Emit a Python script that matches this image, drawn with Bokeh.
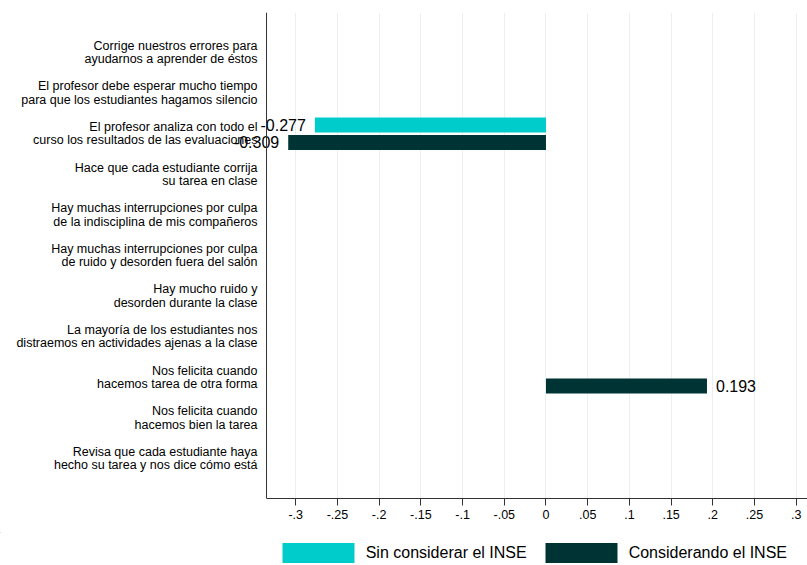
from bokeh.plotting import figure
from bokeh.layouts import column
from bokeh.models import (ColumnDataSource, Range1d, FixedTicker, Span,
                          Legend, LegendItem)
from bokeh.core.properties import value
from bokeh.embed import file_html
from bokeh.resources import INLINE

NaN = float("nan")

categories = [
    "Corrige nuestros errores para\nayudarnos a aprender de éstos",
    "El profesor debe esperar mucho tiempo\npara que los estudiantes hagamos silencio",
    "El profesor analiza con todo el\ncurso los resultados de las evaluaciones",
    "Hace que cada estudiante corrija\nsu tarea en clase",
    "Hay muchas interrupciones por culpa\nde la indisciplina de mis compañeros",
    "Hay muchas interrupciones por culpa\nde ruido y desorden fuera del salón",
    "Hay mucho ruido y\ndesorden durante la clase",
    "La mayoría de los estudiantes nos\ndistraemos en actividades ajenas a la clase",
    "Nos felicita cuando\nhacemos tarea de otra forma",
    "Nos felicita cuando\nhacemos bien la tarea",
    "Revisa que cada estudiante haya\nhecho su tarea y nos dice cómo está",
]
sin_inse = [NaN, NaN, -0.277, NaN, NaN, NaN, NaN, NaN, NaN, NaN, NaN]
con_inse = [NaN, NaN, -0.309, NaN, NaN, NaN, NaN, NaN, 0.193, NaN, NaN]
series_names = ["Sin considerar el INSE", "Considerando el INSE"]
x_ticks = [-0.3, -0.25, -0.2, -0.15, -0.1, -0.05, 0.0, 0.05, 0.1, 0.15, 0.2, 0.25, 0.3]
x_tick_labels = ["-.3", "-.25", "-.2", "-.15", "-.1", "-.05", "0", ".05", ".1", ".15", ".2", ".25", ".3"]

CYAN = "#00cccc"
DARK = "#003434"
AXIS = "#333333"
FONT = "Liberation Sans"
DODGE = 0.214
BAR_H = 0.37
PAD = 0.486
X_AXIS_START = -0.335      # where the plot region (left axis) begins
X_END = 0.3135
X_VIEW_START = -0.6539     # room on the left for the category labels

n = len(categories)
ypos = [float(n - i) for i in range(n)]   # first category at the top


def lab(v):
    return "" if v != v else "%.3f" % v


src = ColumnDataSource(dict(
    y=ypos,
    cat=categories,
    y_sin=[y + DODGE for y in ypos],
    y_con=[y - DODGE for y in ypos],
    sin=sin_inse, con=con_inse,
    sin_lab=[lab(v) for v in sin_inse],
    con_lab=[lab(v) for v in con_inse],
    sin_al=["right" if (v == v and v < 0) else "left" for v in sin_inse],
    con_al=["right" if (v == v and v < 0) else "left" for v in con_inse],
    sin_dx=[-9 if (v == v and v < 0) else 9 for v in sin_inse],
    con_dx=[-9 if (v == v and v < 0) else 9 for v in con_inse],
    x0=[X_AXIS_START] * n,
))

p = figure(width=807, height=532,
           y_range=Range1d(0.5 - PAD, n + 0.5 + PAD), x_range=Range1d(X_VIEW_START, X_END),
           y_axis_location=None,
           output_backend="svg", toolbar_location=None,
           min_border_left=0, min_border_right=0, min_border_top=12, min_border_bottom=34)
p.outline_line_color = None
p.background_fill_color = "white"

p.xgrid.ticker = FixedTicker(ticks=x_ticks)
p.xgrid.grid_line_color = "#e8f0f2"
p.ygrid.grid_line_color = None

p.hbar(y="y_sin", left=0, right="sin", height=BAR_H,
       source=src, fill_color=CYAN, line_color=None)
p.hbar(y="y_con", left=0, right="con", height=BAR_H,
       source=src, fill_color=DARK, line_color=None)

# category labels, right-aligned against the left axis
p.text(x="x0", y="y", text="cat", source=src, x_offset=-9,
       text_align="right", text_baseline="middle", text_line_height=0.95,
       text_font=value(FONT), text_font_size=value("12.5px"), text_color="black")

# left axis line
p.add_layout(Span(location=X_AXIS_START, dimension="height",
                  line_color=AXIS, line_width=1))

# value labels
p.text(x="sin", y="y_sin", text="sin_lab", source=src, x_offset="sin_dx",
       text_align="sin_al", text_baseline="middle",
       text_font=value(FONT), text_font_size=value("16px"), text_color="black")
p.text(x="con", y="y_con", text="con_lab", source=src, x_offset="con_dx",
       text_align="con_al", text_baseline="middle",
       text_font=value(FONT), text_font_size=value("16px"), text_color="black")

# bottom axis
xa = p.xaxis[0]
xa.ticker = FixedTicker(ticks=x_ticks)
xa.bounds = (X_AXIS_START, X_END)
xa.major_label_overrides = {t: l for t, l in zip(x_ticks, x_tick_labels)}
xa.major_tick_out = 7
xa.major_tick_in = 0
xa.minor_tick_line_color = None
xa.major_label_standoff = 4
xa.major_label_text_font = FONT
xa.major_label_text_font_size = "12.5px"
xa.major_label_text_color = "black"
xa.axis_line_color = AXIS
xa.major_tick_line_color = AXIS

# legend strip underneath (its proxy bars lie outside its view)
lg = figure(width=807, height=33, x_range=Range1d(10, 11), y_range=Range1d(0, 1),
            x_axis_location=None, y_axis_location=None,
            output_backend="svg", toolbar_location=None,
            min_border_left=0, min_border_right=0, min_border_top=0, min_border_bottom=0)
lg.outline_line_color = None
lg.xgrid.grid_line_color = None
lg.ygrid.grid_line_color = None
l_sin = lg.hbar(y="y_sin", left=0, right="sin", height=BAR_H, source=src,
                fill_color=CYAN, line_color=None)
l_con = lg.hbar(y="y_con", left=0, right="con", height=BAR_H, source=src,
                fill_color=DARK, line_color=None)
legend = Legend(items=[LegendItem(label=series_names[0], renderers=[l_sin]),
                       LegendItem(label=series_names[1], renderers=[l_con])],
                orientation="horizontal", location=(272.7, 0),
                glyph_width=90, glyph_height=25, label_standoff=3, spacing=9,
                padding=0, margin=0, border_line_color=None, background_fill_alpha=0,
                label_text_font=FONT, label_text_font_size="16px", label_text_color="black")
lg.add_layout(legend, "center")

layout = column(p, lg, spacing=0)
open("out.html", "w").write(file_html(layout, INLINE))
